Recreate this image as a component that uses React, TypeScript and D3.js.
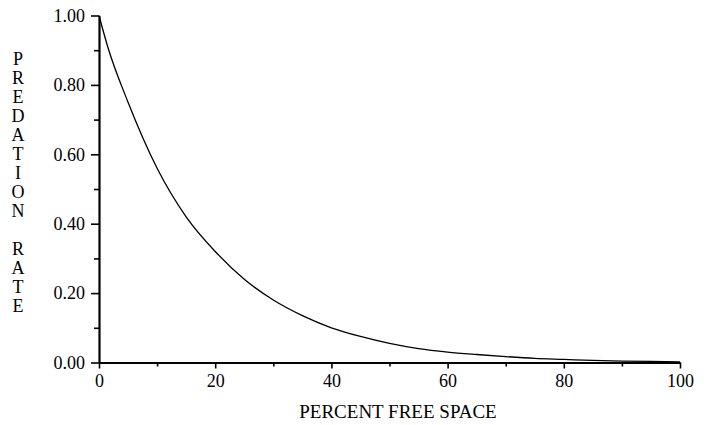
import { useEffect, useRef } from "react"
import * as d3 from "d3"

// values
const percentFree = [0, 1.5, 5, 10, 15, 20, 25, 30, 35, 40, 45, 50, 55, 60, 65, 70, 75, 80, 85, 90, 95, 100]
const predationRate = [1.0, 0.91, 0.75, 0.56, 0.42, 0.32, 0.24, 0.18, 0.135, 0.1, 0.075, 0.055, 0.04, 0.03, 0.023, 0.017, 0.012, 0.009, 0.006, 0.004, 0.003, 0.002]

const xMajorTicks = [0, 20, 40, 60, 80, 100]
const xMinorTicks = [10, 30, 50, 70, 90]
const yMajorTicks = [0, 0.2, 0.4, 0.6, 0.8, 1.0]
const yMinorTicks = [0.1, 0.3, 0.5, 0.7, 0.9]

const xTitle = "PERCENT FREE SPACE"
const yTitleLines = ["P", "R", "E", "D", "A", "T", "I", "O", "N", "", "R", "A", "T", "E"]

const App = () => {
  const svgRef = useRef<SVGSVGElement>(null)

  useEffect(() => {
    document.body.style.margin = "0"
    const width = 706
    const height = 425
    const font = "'Liberation Serif', 'Times New Roman', serif"

    const svg = d3.select(svgRef.current)
      .attr("width", width)
      .attr("height", height)
      .attr("viewBox", [0, 0, width, height].join(" "))
      .style("display", "block")
      .style("background", "#fff")
    svg.selectAll("*").remove()

    const x = d3.scaleLinear().domain([0, 100]).range([99, 680])
    const y = d3.scaleLinear().domain([0, 1]).range([362.5, 15.5])

    // minor ticks first, then the major axis on top
    svg.append("g")
      .attr("transform", `translate(0,${y(0)})`)
      .call(d3.axisBottom(x).tickValues(xMinorTicks).tickSize(4).tickFormat(() => ""))
      .call(g => g.select(".domain").remove())
      .call(g => g.selectAll("line").attr("stroke-width", 1.6))

    svg.append("g")
      .attr("transform", `translate(${x(0)},0)`)
      .call(d3.axisLeft(y).tickValues(yMinorTicks).tickSize(5).tickFormat(() => ""))
      .call(g => g.select(".domain").remove())
      .call(g => g.selectAll("line").attr("stroke-width", 1.6))

    svg.append("g")
      .attr("transform", `translate(0,${y(0)})`)
      .call(d3.axisBottom(x).tickValues(xMajorTicks).tickSize(6).tickSizeOuter(0).tickPadding(6).tickFormat(d3.format("d")))
      .call(g => g.select(".domain").attr("stroke-width", 1.8))
      .call(g => g.selectAll("line").attr("stroke-width", 1.6))
      .call(g => g.selectAll("text")
        .attr("font-family", font)
        .attr("font-size", 18)
        .attr("fill", "#000"))

    svg.append("g")
      .attr("transform", `translate(${x(0)},0)`)
      .call(d3.axisLeft(y).tickValues(yMajorTicks).tickSize(8).tickSizeOuter(0).tickPadding(6).tickFormat(d3.format(".2f")))
      .call(g => g.select(".domain").attr("stroke-width", 2.2))
      .call(g => g.selectAll("line").attr("stroke-width", 1.6))
      .call(g => g.selectAll("text")
        .attr("font-family", font)
        .attr("font-size", 18)
        .attr("fill", "#000"))

    // curve
    const line = d3.line<number>()
      .x((d, i) => x(percentFree[i]))
      .y(d => y(d))
      .curve(d3.curveMonotoneX)

    svg.append("path")
      .datum(predationRate)
      .attr("fill", "none")
      .attr("stroke", "#000")
      .attr("stroke-width", 1.3)
      .attr("d", line)

    // x title
    svg.append("text")
      .attr("x", 398)
      .attr("y", 418)
      .attr("text-anchor", "middle")
      .attr("font-family", font)
      .attr("font-size", 19)
      .text(xTitle)

    // y title, one letter per line
    svg.append("g")
      .attr("text-anchor", "middle")
      .attr("font-family", font)
      .attr("font-size", 18)
      .selectAll("text")
      .data(yTitleLines)
      .join("text")
        .attr("x", 18)
        .attr("y", (d, i) => 65 + i * 19)
        .text(d => d)
  }, [])

  return <svg ref={svgRef} />
}

export default App
